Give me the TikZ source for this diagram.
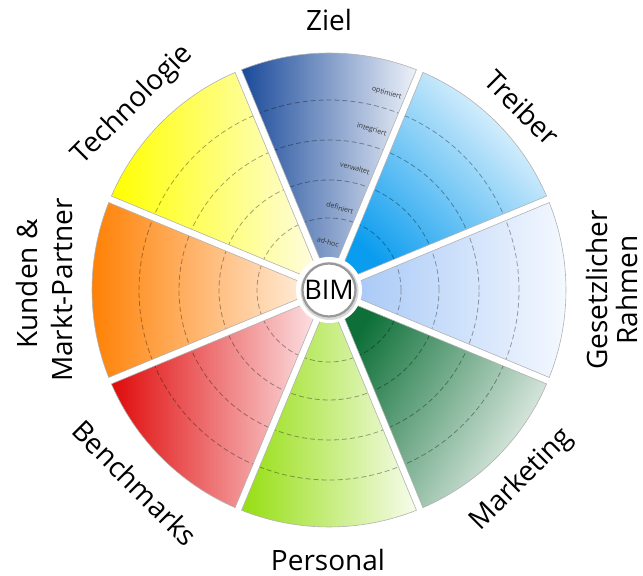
\documentclass[tikz,border=0pt]{standalone}
\usepackage{fontspec}
\setmainfont{Open Sans}
\usetikzlibrary{calc}
\definecolor{zielD}{HTML}{1A4A9A}
\definecolor{zielL}{HTML}{EEF2F9}
\definecolor{treibD}{HTML}{0A9CEE}
\definecolor{treibL}{HTML}{EEF8FE}
\definecolor{gesD}{HTML}{A2C5F6}
\definecolor{gesL}{HTML}{F7FAFF}
\definecolor{markD}{HTML}{0E7038}
\definecolor{markL}{HTML}{EAF1EC}
\definecolor{persD}{HTML}{96DE12}
\definecolor{persL}{HTML}{F7FCEC}
\definecolor{benchD}{HTML}{E00A0A}
\definecolor{benchL}{HTML}{FDE8EA}
\definecolor{kundD}{HTML}{FF7E00}
\definecolor{kundL}{HTML}{FFF3E8}
\definecolor{techD}{HTML}{FFFF00}
\definecolor{techL}{HTML}{FEFDE8}
\tikzset{
  dashline/.style={draw=black, opacity=0.35, line width=0.8pt, dash pattern=on 5pt off 3pt},
  secedge/.style={draw=black!30, line width=0.6pt},
  biglabel/.style={font=\fontsize{28}{33}\selectfont, text=black, inner sep=0pt},
  levellabel/.style={font=\fontsize{7}{8}\selectfont, text=black!80, inner sep=0pt, rotate=-16}
}
\begin{document}
\begin{tikzpicture}[x=1pt,y=1pt]
\useasboundingbox (0,0) rectangle (643,576);
\def\R{237}
\def\g{3.5}
\begin{scope}[shift={(329,286)}]
\foreach \ang/\cd/\cl/\sa in {90/zielD/zielL/90, 45/treibD/treibL/135, 0/gesD/gesL/90, -45/markD/markL/60, -90/persD/persL/90, -135/benchD/benchL/90, 180/kundD/kundL/90, 135/techD/techL/90}{
  \pgfmathsetmacro\sdA{\ang-22.5+asin(\g/\R)}
  \pgfmathsetmacro\sdB{\ang+22.5-asin(\g/\R)}
  \pgfmathsetmacro\sdT{\g/sin(22.5)}
  \begin{scope}
    \clip (\ang:\sdT) -- (\sdA:\R) arc[start angle=\sdA, end angle=\sdB, radius=\R] -- cycle;
    \shade[left color=\cd, right color=\cl, shading angle=\sa] (\ang:\sdT) -- (\sdA:\R) arc[start angle=\sdA, end angle=\sdB, radius=\R] -- cycle;
    \foreach \rr in {72,110,150,190} \draw[dashline] (0,0) circle[radius=\rr];
  \end{scope}
  \draw[secedge] (\ang:\sdT) -- (\sdA:\R) arc[start angle=\sdA, end angle=\sdB, radius=\R] -- cycle;
}
\fill[white] (0,0) circle[radius=33];
\fill[black!15] (0.5,-1) circle[radius=29];
\draw[fill=white, draw=black!40, line width=2.2pt] (0,0) circle[radius=26.5];
\node[font=\fontsize{27}{30}\selectfont, inner sep=0pt] (bim) at (0,0) {BIM};
\end{scope}
% level labels
\node[levellabel] (l5) at (386.7,482.7) {optimiert};
\node[levellabel] (l4) at (371.7,446) {integriert};
\node[levellabel] (l3) at (355,408) {verwaltet};
\node[levellabel] (l2) at (340,368) {definiert};
\node[levellabel] (l1) at (328,334.3) {ad-hoc};
% outer labels
\node[biglabel] (ziel) at (329,556) {Ziel};
\node[biglabel, rotate=-45] (treiber) at (522,468) {Treiber};
\node[biglabel, rotate=90, anchor=base] (gesetz) at (607,286) {Gesetzlicher};
\node[biglabel, rotate=90, anchor=base] (rahmen) at (637,286) {Rahmen};
\node[biglabel, rotate=45] (marketing) at (522,96) {Marketing};
\node[biglabel] (personal) at (328,16) {Personal};
\node[biglabel, rotate=-45] (bench) at (135,93) {Benchmarks};
\node[biglabel, rotate=90, anchor=base] (kunden) at (38,292) {Kunden \&};
\node[biglabel, rotate=90, anchor=base] (markt) at (72,286) {Markt-Partner};
\node[biglabel, rotate=45] (tech) at (133,471) {Technologie};
\end{tikzpicture}
\end{document}
